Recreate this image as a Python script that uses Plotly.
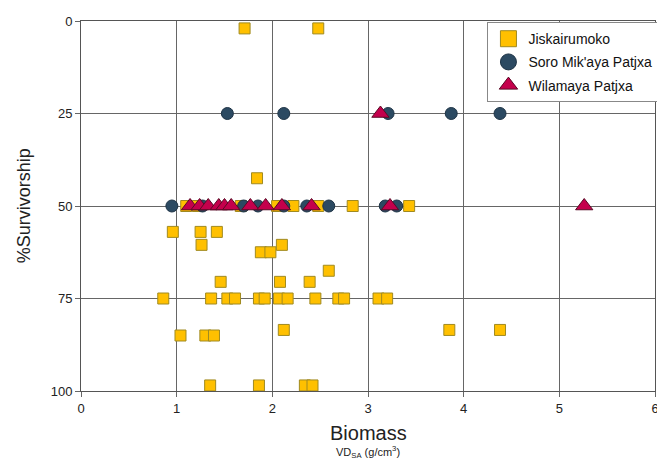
import plotly.graph_objects as go

# Jiskairumoko (squares)
jis_x = [1.71, 2.48, 1.84,
         1.10, 1.22, 1.67, 2.05, 2.22, 2.48, 2.84, 3.43,
         0.96, 1.25, 1.42, 1.26, 1.88, 1.98, 2.10, 2.59, 1.46, 2.08, 2.39,
         0.86, 1.36, 1.53, 1.61, 1.86, 1.92, 2.07, 2.16, 2.45, 2.69, 2.75, 3.11, 3.20,
         1.04, 1.30, 1.39, 2.12, 3.85, 4.38,
         1.35, 1.86, 2.34, 2.42]
jis_y = [2, 2, 42.5,
         50, 50, 50, 50, 50, 50, 50, 50,
         57, 57, 57, 60.5, 62.5, 62.5, 60.5, 67.5, 70.5, 70.5, 70.5,
         75, 75, 75, 75, 75, 75, 75, 75, 75, 75, 75, 75, 75,
         85, 85, 85, 83.5, 83.5, 83.5,
         98.5, 98.5, 98.5, 98.5]

# Soro Mik'aya Patjxa (circles)
soro_x = [1.53, 2.12, 3.21, 3.87, 4.38, 0.95, 1.27, 1.70, 1.85, 2.12, 2.36, 2.59, 3.18, 3.30]
soro_y = [25, 25, 25, 25, 25, 50, 50, 50, 50, 50, 50, 50, 50, 50]

# Wilamaya Patjxa (triangles)
wila_x = [3.13, 1.14, 1.24, 1.33, 1.44, 1.50, 1.57, 1.77, 1.93, 2.10, 2.41, 3.23, 5.26]
wila_y = [25, 50, 50, 50, 50, 50, 50, 50, 50, 50, 50, 50, 50]

x_ticks = [0, 1, 2, 3, 4, 5, 6]
y_ticks = [0, 25, 50, 75, 100]

series = [
    ("Jiskairumoko", jis_x, jis_y, "square", "#FFC000", "#A08A20", 11, 19),
    ("Soro Mik'aya Patjxa", soro_x, soro_y, "circle", "#2C4A62", "#1E3345", 12, 20),
    ("Wilamaya Patjxa", wila_x, wila_y, "triangle-up", "#C4004C", "#5A0A25", 15, 20),
]

fig = go.Figure()
for name, xs, ys, sym, col, lc, sz, lsz in series:
    fig.add_trace(go.Scatter(x=xs, y=ys, mode="markers", name=name, showlegend=False,
                             legendgroup=name,
                             marker=dict(symbol=sym, color=col, size=sz,
                                         line=dict(color=lc, width=1))))
for name, xs, ys, sym, col, lc, sz, lsz in series:
    fig.add_trace(go.Scatter(x=[None], y=[None], mode="markers", name=name,
                             legendgroup=name,
                             marker=dict(symbol=sym, color=col, size=lsz,
                                         line=dict(color=lc, width=1))))

font = "Arial, Liberation Sans, sans-serif"
fig.update_layout(
    width=657, height=452,
    margin=dict(l=73, r=7, t=13, b=69),
    paper_bgcolor="white", plot_bgcolor="white",
    font=dict(family=font, size=13, color="#222"),
    legend=dict(x=1.006, xanchor="right", y=0.997, yanchor="top",
                bordercolor="#888", borderwidth=1, bgcolor="white",
                font=dict(size=14, color="#111"), itemsizing="trace",
                tracegroupgap=2, itemwidth=30),
    xaxis=dict(range=[0, 6], tickvals=x_ticks, ticktext=[str(v) for v in x_ticks],
               showgrid=True, gridcolor="#666", gridwidth=1, zeroline=False,
               showline=True, linecolor="#555", linewidth=1, mirror=True,
               ticks="outside", ticklen=5, tickcolor="#666", automargin=False,
               tickfont=dict(size=13, color="#222")),
    yaxis=dict(range=[100, 0], tickvals=y_ticks, ticktext=[str(v) for v in y_ticks],
               showgrid=True, gridcolor="#666", gridwidth=1, zeroline=False,
               showline=True, linecolor="#555", linewidth=1, mirror=True,
               ticks="outside", ticklen=5, tickcolor="#666", automargin=False,
               tickfont=dict(size=13, color="#222")),
    annotations=[
        dict(text="%Survivorship", x=-0.099, xref="paper", y=0.5, yref="paper",
             xanchor="center", yanchor="middle", textangle=-90, showarrow=False,
             font=dict(size=18, color="#222")),
        dict(text="Biomass", x=0.5, xref="paper", y=-0.1135, yref="paper",
             yanchor="middle", showarrow=False, font=dict(size=20, color="#222")),
        dict(text="VD<sub>SA</sub> (g/cm<sup>3</sup>)", x=0.5, xref="paper", y=-0.166,
             yref="paper", yanchor="middle", showarrow=False,
             font=dict(size=11, color="#222")),
    ],
)

fig.write_html("out.html")
